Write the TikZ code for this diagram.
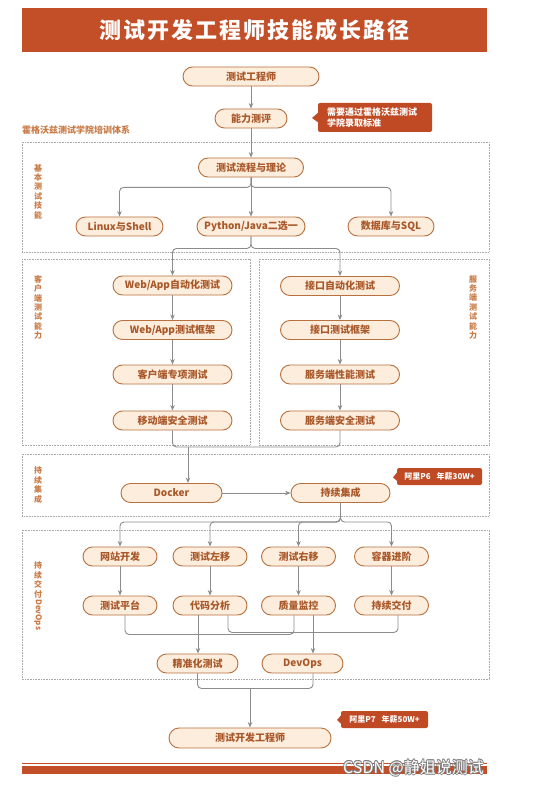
\documentclass[tikz,border=0pt]{standalone}
\usepackage{fontspec}
\setmainfont{Noto Sans CJK SC}
\usetikzlibrary{arrows.meta,calc}
\definecolor{titlered}{HTML}{C24F27}
\definecolor{callred}{HTML}{BF4A24}
\definecolor{nodefill}{HTML}{FDEDDC}
\definecolor{nodeline}{HTML}{B8703E}
\definecolor{nodetext}{HTML}{A9582A}
\definecolor{labeltext}{HTML}{C97A45}
\definecolor{conngray}{HTML}{8C8C8C}
\definecolor{boxgray}{HTML}{A8A8A8}
\tikzset{
  stage/.style={draw=nodeline, fill=nodefill, line width=0.9pt, rounded corners=9.5pt,
    minimum height=19pt, inner sep=0pt, text=nodetext, font=\fontsize{10}{12}\selectfont\bfseries},
  conn/.style={draw=conngray, line width=0.9pt, rounded corners=4pt},
  arr/.style={conn, -{Stealth[length=5.5pt,width=4.5pt]}},
  region/.style={draw=boxgray, line width=0.6pt, densely dotted},
  vlabel/.style={text=labeltext, align=center, inner sep=0pt, font=\fontsize{8}{9.4}\selectfont\bfseries},
  callout/.style={fill=callred, rounded corners=2pt, text=white, inner sep=0pt, font=\fontsize{8}{10.5}\selectfont\bfseries},
  wmark/.style={anchor=west, inner sep=0pt, font=\fontsize{16}{18}\selectfont},
}
\begin{document}
\begin{tikzpicture}[x=1pt,y=-1pt]
\useasboundingbox (0,0) rectangle (548,786);
\fill[white] (0,0) rectangle (548,786);

% title
\node[fill=titlered, minimum width=465pt, minimum height=44pt, inner sep=0pt, text=white,
  font=\fontsize{22}{26}\selectfont\bfseries] (title) at (254.5,30)
  {测\hspace{2pt}试\hspace{2pt}开\hspace{2pt}发\hspace{2pt}工\hspace{2pt}程\hspace{2pt}师\hspace{2pt}技\hspace{2pt}能\hspace{2pt}成\hspace{2pt}长\hspace{2pt}路\hspace{2pt}径};

% regions
\draw[region] (22,142) rectangle (489,252);
\draw[region] (22,259) rectangle (250,445);
\draw[region] (259,259) rectangle (489,445);
\draw[region] (22,454) rectangle (489,516);
\draw[region] (22,530) rectangle (489,679);

\node[text=labeltext, anchor=west, inner sep=0pt, font=\fontsize{9}{10}\selectfont\bfseries] (sys) at (22,130) {霍格沃兹测试学院培训体系};
\node[vlabel] (l1) at (38,191.5) {基\\本\\测\\试\\技\\能};
\node[vlabel] (l2) at (38,307.5) {客\\户\\端\\测\\试\\能\\力};
\node[vlabel] (l3) at (473,307.5) {服\\务\\端\\测\\试\\能\\力};
\node[vlabel] (l4) at (38,485) {持\\续\\集\\成};
\node[vlabel] (l5) at (38,580) {持\\续\\交\\付};
\node[vlabel, rotate=-90, anchor=west] (l6) at (38,599) {DevOps};

% nodes
\node[stage, minimum width=136pt] (n1) at (251,76.5) {测试工程师};
\node[stage, minimum width=72pt] (n2) at (251,118.5) {能力测评};
\node[stage, minimum width=105pt] (n3) at (251,167.5) {测试流程与理论};
\node[stage, minimum width=87pt] (linux) at (119.5,226.5) {Linux与Shell};
\node[stage, minimum width=108pt] (py) at (251,226.5) {Python/Java二选一};
\node[stage, minimum width=86pt] (db) at (391,226.5) {数据库与SQL};

\node[stage, minimum width=119pt] (c1) at (172.5,285.5) {Web/App自动化测试};
\node[stage, minimum width=119pt] (c2) at (172.5,330) {Web/App测试框架};
\node[stage, minimum width=119pt] (c3) at (172.5,374.5) {客户端专项测试};
\node[stage, minimum width=119pt] (c4) at (172.5,420.5) {移动端安全测试};
\node[stage, minimum width=119pt] (s1) at (340,286) {接口自动化测试};
\node[stage, minimum width=119pt] (s2) at (340,330) {接口测试框架};
\node[stage, minimum width=119pt] (s3) at (340,374.5) {服务端性能测试};
\node[stage, minimum width=119pt] (s4) at (340,420.5) {服务端安全测试};

\node[stage, minimum width=101pt] (docker) at (171.5,493) {Docker};
\node[stage, minimum width=99pt] (ci) at (340.5,493) {持续集成};

\node[stage, minimum width=74pt] (a1) at (120,556.5) {网站开发};
\node[stage, minimum width=74pt] (a2) at (210,556.5) {测试左移};
\node[stage, minimum width=74pt] (a3) at (298.5,556.5) {测试右移};
\node[stage, minimum width=74pt] (a4) at (391.5,556.5) {容器进阶};
\node[stage, minimum width=74pt] (b1) at (120,605.5) {测试平台};
\node[stage, minimum width=74pt] (b2) at (210,605.5) {代码分析};
\node[stage, minimum width=74pt] (b3) at (298.5,605.5) {质量监控};
\node[stage, minimum width=74pt] (b4) at (391.5,605.5) {持续交付};

\node[stage, minimum width=81pt] (p1) at (197.5,663.5) {精准化测试};
\node[stage, minimum width=81pt] (p2) at (302.5,663.5) {DevOps};

\node[stage, minimum width=162pt, minimum height=20pt, rounded corners=10pt] (final) at (250,738) {测试开发工程师};

% callouts
\node[callout, minimum width=114pt, minimum height=29pt, align=left, text width=96pt,
  font=\fontsize{9}{11.5}\selectfont\bfseries] (cal1) at (375,117.5) {需要通过霍格沃兹测试\\学院录取标准};
\fill[callred] ($(cal1.west)+(0.5,-5)$) -- (312,118) -- ($(cal1.west)+(0.5,5)$) -- cycle;
\node[callout, minimum width=85pt, minimum height=17pt] (cal2) at (439.5,476.5) {阿里P6\hspace{6pt}年薪30W+};
\fill[callred] ($(cal2.west)+(0.5,-4.5)$) -- (393,477.5) -- ($(cal2.west)+(0.5,4.5)$) -- cycle;
\node[callout, minimum width=87pt, minimum height=17pt] (cal3) at (384.5,719.5) {阿里P7\hspace{6pt}年薪50W+};
\fill[callred] ($(cal3.west)+(0.5,-4.5)$) -- (337,720) -- ($(cal3.west)+(0.5,4.5)$) -- cycle;

% connectors
\draw[arr] (n1) -- (n2);
\draw[arr] (n2) -- (n3);
\draw[arr] (n3) -- (py);
\draw[arr] (n3.south) -- ++(0,10) -| (linux.north);
\draw[arr] (n3.south) -- ++(0,10) -| (db.north);
\draw[arr] (py.south) -- ++(0,12) -| (c1.north);
\draw[arr] (py.south) -- ++(0,12) -| (s1.north);
\draw[arr] (c1) -- (c2);
\draw[arr] (c2) -- (c3);
\draw[arr] (c3) -- (c4);
\draw[arr] (s1) -- (s2);
\draw[arr] (s2) -- (s3);
\draw[arr] (s3) -- (s4);
\draw[conn] (c4.south) -- ++(0,16.5) -| (s4.south);
\coordinate (j1) at (188,447);
\draw[arr] (j1) -- (j1 |- docker.north);
\draw[arr] (docker) -- (ci);
\draw[arr] (ci.south) -- ++(0,19) -| (a1.north);
\draw[arr] (ci.south) -- ++(0,19) -| (a2.north);
\draw[arr] (ci.south) -- ++(0,19) -| (a3.north);
\draw[arr] (ci.south) -- ++(0,19) -| (a4.north);
\draw[arr] (a1) -- (b1);
\draw[arr] (a2) -- (b2);
\draw[arr] (a3) -- (b3);
\draw[arr] (a4) -- (b4);
\draw[conn] ($(b1.south)+(5,0)$) -- ++(0,19) -| ($(b3.south)+(-4.5,0)$);
\draw[conn] ($(b2.south)+(18,0)$) -- ++(0,17) -| ($(b4.south)+(6.5,0)$);
\coordinate (j2) at (198,615);
\draw[arr] (j2) -- (j2 |- p1.north);
\coordinate (j3) at (313,615);
\draw[arr] (j3) -- (j3 |- p2.north);
\draw[conn] (p1.south) -- ++(0,15) -| ($(p2.south)+(10.5,0)$);
\coordinate (j4) at (250,688);
\draw[arr] (j4) -- (final.north);

% bottom bars
\fill[titlered] (22,762.5) rectangle (487,763.5);
\fill[titlered] (22,766) rectangle (487,774);
% watermark (white text with grey outline)
\foreach \dx/\dy in {-0.7/0,0.7/0,0/-0.7,0/0.7,-0.5/-0.5,0.5/0.5,-0.5/0.5,0.5/-0.5}
  \node[wmark, text=black!50] at (343+\dx,768+\dy) {CSDN @静姐说测试};
\node[wmark, text=white] (wm) at (343,768) {CSDN @静姐说测试};
\end{tikzpicture}
\end{document}
